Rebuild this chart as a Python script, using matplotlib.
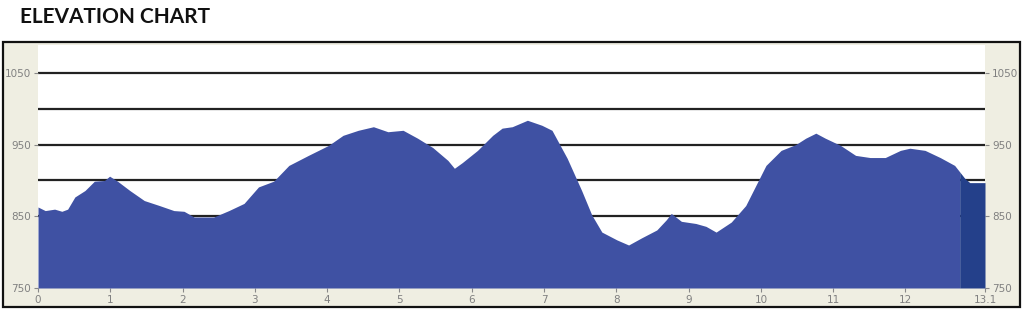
import numpy as np
import matplotlib
matplotlib.use("Agg")
import matplotlib.pyplot as plt
from matplotlib.patches import Rectangle

# elevation profile (miles, feet)
miles = [0.0, 0.10, 0.23, 0.33, 0.41, 0.51, 0.65, 0.78, 0.92, 0.99, 1.10, 1.27,
         1.47, 1.68, 1.88, 2.02, 2.16, 2.43, 2.64, 2.85, 3.05, 3.26, 3.47, 3.74,
         4.02, 4.22, 4.43, 4.64, 4.84, 5.05, 5.25, 5.46, 5.67, 5.76, 5.87, 6.08,
         6.29, 6.42, 6.56, 6.77, 6.97, 7.11, 7.32, 7.52, 7.66, 7.80, 8.01, 8.17,
         8.35, 8.56, 8.69, 8.76, 8.90, 9.10, 9.24, 9.38, 9.59, 9.79, 9.93, 10.07,
         10.28, 10.48, 10.62, 10.76, 10.89, 11.10, 11.31, 11.51, 11.72, 11.93,
         12.06, 12.27, 12.48, 12.68, 12.82, 12.89, 13.1]
elev = [863, 858, 860, 857, 860, 877, 886, 899, 900, 906, 899, 886,
        872, 865, 858, 857, 849, 849, 858, 868, 891, 899, 921, 935,
        949, 963, 970, 975, 968, 970, 959, 946, 928, 917, 925, 942,
        963, 973, 975, 984, 977, 970, 931, 886, 852, 828, 817, 810,
        820, 831, 845, 854, 843, 840, 836, 828, 842, 865, 893, 921,
        942, 950, 959, 966, 959, 949, 935, 932, 932, 942,
        945, 942, 932, 921, 903, 897, 897]
dark_start = 12.75
xticks = [0, 1, 2, 3, 4, 5, 6, 7, 8, 9, 10, 11, 12, 13.1]
xticklabels = ["0", "1", "2", "3", "4", "5", "6", "7", "8", "9", "10", "11", "12", "13.1"]
yticks = [750, 850, 950, 1050]
grid_levels = [850, 900, 950, 1000, 1050]

fig = plt.figure(figsize=(10.24, 3.09), dpi=100)
fig.patch.set_facecolor("white")

# beige panel with black border, behind the axes
fig.patches.append(Rectangle((3 / 1024, 2 / 309), 1017 / 1024, 265 / 309,
                             transform=fig.transFigure, facecolor="#efeee2",
                             edgecolor="#111111", linewidth=1.6, zorder=-5))

fig.text(20 / 1024, 1 - 17 / 309, "ELEVATION CHART", fontsize=15, fontweight="bold",
         family="Lato", color="#111111", va="center", ha="left")

ax = fig.add_axes([38 / 1024, 1 - 288 / 309, 947 / 1024, 243 / 309])
ax.set_facecolor("white")

x = np.array(miles)
y = np.array(elev)
yd = np.interp(dark_start, x, y)
a = x < dark_start
b = x > dark_start
for g in grid_levels:
    ax.axhline(g, color="#222222", lw=1.6, zorder=1)
ax.fill_between(np.r_[x[a], dark_start], 750, np.r_[y[a], yd], color="#3f51a3", lw=0, zorder=2)
ax.fill_between(np.r_[dark_start, x[b]], 750, np.r_[yd, y[b]], color="#24408a", lw=0, zorder=2)

ax.set_xlim(0, 13.1)
ax.set_ylim(750, 1089)
ax.set_xticks(xticks)
ax.set_xticklabels(xticklabels)
ax.set_yticks(yticks)
ax.tick_params(axis="both", colors="#888888", labelsize=7.5, length=3, width=0.8,
               labelcolor="#808080", pad=2)
ax.tick_params(axis="y", right=True, labelright=True)
for s in ax.spines.values():
    s.set_visible(False)

fig.savefig("out.png", dpi=100)
